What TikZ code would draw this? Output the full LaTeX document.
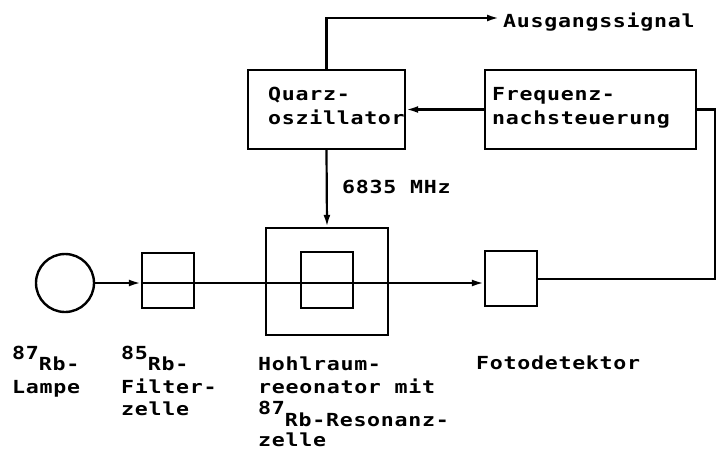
\documentclass[tikz,border=0pt]{standalone}
\usepackage{fontspec}
\newfontfamily\plt[FakeStretch=1.2,LetterSpace=4]{DejaVu Sans Mono Bold}
\usetikzlibrary{arrows.meta}
\tikzset{
  blk/.style={draw, line width=2.4pt, inner sep=0pt},
  wire/.style={line width=2.2pt},
  arr/.style={wire, -{Latex[length=12pt,width=7pt]}},
  txt/.style={inner sep=0pt, anchor=base west, font=\plt\fontsize{18}{23}\selectfont},
}
\begin{document}
\begin{tikzpicture}[x=1pt,y=-1pt]
\useasboundingbox (0,0) rectangle (718,450);
% blocks
\node[blk, minimum width=157pt, minimum height=79pt] (quarz) at (326.5,109.5) {};
\node[blk, minimum width=211pt, minimum height=79pt] (freq) at (590.5,109.5) {};
\node[draw, line width=2.4pt, circle, minimum size=58pt, inner sep=0pt] (lamp) at (65,283) {};
\node[blk, minimum width=52pt, minimum height=55pt] (filter) at (168,280.5) {};
\node[blk, minimum width=122pt, minimum height=107pt] (cav) at (327,281.5) {};
\node[blk, minimum width=52pt, minimum height=56pt] (cell) at (327,280) {};
\node[blk, minimum width=52pt, minimum height=55pt] (det) at (511,278.5) {};
% texts
\node[txt] (tq1) at (268,100) {Quarz-};
\node[txt] (tq2) at (268,124) {oszillator};
\node[txt] (tf1) at (492,100) {Frequenz-};
\node[txt] (tf2) at (492,124) {nachsteuerung};
\node[txt] (tout) at (503,27) {Ausgangssignal};
\coordinate (outend) at (499,18);
\node[txt] (tmhz) at (342,193) {6835 MHz};
\node[txt] (tl1) at (12,370) {\raisebox{11pt}{87}Rb-};
\node[txt] (tl2) at (12,393) {Lampe};
\node[txt] (tr1) at (121,370) {\raisebox{11pt}{85}Rb-};
\node[txt] (tr2) at (121,393) {Filter-};
\node[txt] (tr3) at (121,415) {zelle};
\node[txt] (th1) at (258,370) {Hohlraum-};
\node[txt] (th2) at (258,393) {reeonator mit};
\node[txt] (th3) at (258,426) {\raisebox{12pt}{87}Rb-Resonanz-};
\node[txt] (th4) at (258,446) {zelle};
\node[txt] (tdet) at (476,369) {Fotodetektor};
% connectors
\draw[arr] (quarz.north) |- (outend);
\draw[arr] (quarz.south) -- (cav.north);
\draw[arr] (freq.west) -- (quarz.east);
\draw[arr] (lamp.east) -- (filter.west |- lamp.east);
\draw[arr] (filter.west |- lamp.east) -- (det.west |- lamp.east);
\coordinate (c1) at (715,279);
\coordinate (c2) at (715,109.5);
\draw[wire] (det.east |- c1) -- (c1) -- (c2) -- (freq.east);
\end{tikzpicture}
\end{document}
